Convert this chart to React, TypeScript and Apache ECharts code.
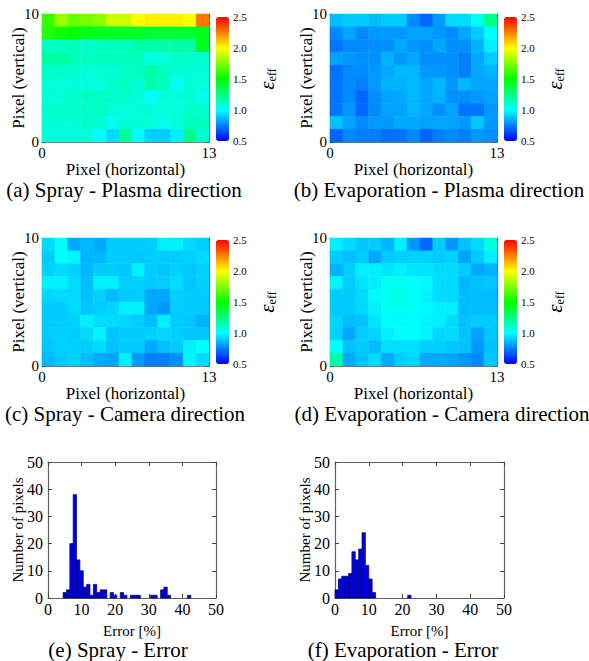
import React, { useEffect, useRef } from "react";
import * as echarts from "echarts";

const FONT = "'Liberation Serif', 'Times New Roman', serif";

// Heatmap categories (pixel indices)
const xPixels = ["0", "1", "2", "3", "4", "5", "6", "7", "8", "9", "10", "11", "12"];
const yPixels = ["0", "1", "2", "3", "4", "5", "6", "7", "8", "9"];

// Effective emissivity maps, rows listed from the top (vertical pixel 9) down to 0
const sprayPlasma = [
  [1.60, 1.80, 1.70, 1.73, 1.77, 1.90, 1.90, 2.00, 2.03, 2.03, 2.03, 2.00, 2.27],
  [1.57, 1.53, 1.50, 1.45, 1.45, 1.43, 1.43, 1.42, 1.40, 1.40, 1.40, 1.40, 1.45],
  [1.12, 1.12, 1.13, 1.10, 1.12, 1.13, 1.13, 1.17, 1.17, 1.17, 1.17, 1.17, 1.45],
  [1.18, 1.18, 1.15, 1.12, 1.13, 1.13, 1.13, 1.13, 1.07, 1.07, 1.12, 1.10, 1.10],
  [1.10, 1.10, 1.10, 1.07, 1.08, 1.08, 1.10, 1.13, 1.17, 1.13, 1.08, 1.08, 1.08],
  [1.08, 1.07, 1.08, 1.07, 1.07, 1.10, 1.13, 1.08, 1.17, 1.13, 1.03, 1.08, 1.07],
  [1.08, 1.08, 1.10, 1.12, 1.12, 1.10, 1.10, 1.08, 1.00, 1.07, 1.07, 1.08, 1.03],
  [1.10, 1.10, 1.10, 1.10, 1.12, 1.08, 1.07, 1.08, 1.08, 1.07, 1.07, 1.10, 1.10],
  [1.08, 1.08, 1.08, 1.10, 1.08, 1.03, 1.08, 1.08, 1.07, 1.03, 1.07, 1.13, 1.13],
  [1.07, 1.07, 1.07, 1.07, 1.00, 0.93, 1.20, 1.00, 0.90, 0.90, 0.97, 1.23, 1.10],
];

const evapPlasma = [
  [0.87, 0.90, 0.90, 0.87, 0.90, 0.90, 0.77, 0.70, 0.80, 0.93, 0.93, 1.03, 1.23],
  [0.77, 0.83, 0.77, 0.80, 0.80, 0.80, 0.82, 0.82, 0.80, 0.77, 0.83, 0.90, 1.00],
  [0.73, 0.77, 0.77, 0.78, 0.78, 0.83, 0.80, 0.78, 0.83, 0.78, 0.78, 0.85, 0.97],
  [0.82, 0.80, 0.78, 0.78, 0.85, 0.80, 0.83, 0.78, 0.78, 0.78, 0.75, 0.83, 0.90],
  [0.72, 0.77, 0.77, 0.80, 0.83, 0.86, 0.86, 0.80, 0.80, 0.78, 0.75, 0.83, 0.85],
  [0.73, 0.77, 0.75, 0.80, 0.85, 0.85, 0.86, 0.83, 0.86, 0.80, 0.86, 0.83, 0.83],
  [0.73, 0.77, 0.70, 0.78, 0.82, 0.83, 0.86, 0.83, 0.85, 0.78, 0.78, 0.80, 0.82],
  [0.73, 0.80, 0.70, 0.77, 0.82, 0.82, 0.86, 0.83, 0.78, 0.82, 0.73, 0.73, 0.80],
  [0.88, 0.82, 0.77, 0.80, 0.80, 0.83, 0.83, 0.82, 0.83, 0.82, 0.80, 0.89, 0.80],
  [0.70, 0.77, 0.75, 0.75, 0.72, 0.73, 0.77, 0.70, 0.75, 0.77, 0.75, 0.80, 0.78],
];

const sprayCamera = [
  [0.93, 1.00, 0.83, 0.86, 0.83, 0.90, 0.90, 0.90, 0.90, 0.97, 0.97, 0.93, 0.90],
  [0.90, 1.00, 0.98, 0.86, 0.86, 0.90, 0.90, 0.89, 0.90, 0.90, 0.90, 0.91, 0.93],
  [0.91, 0.93, 0.91, 0.86, 0.90, 0.90, 0.89, 0.97, 0.90, 0.89, 0.91, 0.89, 0.91],
  [0.97, 0.97, 0.93, 0.87, 0.97, 0.97, 0.90, 0.91, 0.90, 0.90, 0.93, 0.89, 0.91],
  [0.92, 0.93, 0.93, 0.88, 0.91, 0.87, 0.90, 0.90, 0.83, 0.83, 0.91, 0.90, 0.90],
  [0.90, 0.90, 0.93, 0.89, 0.90, 0.92, 0.97, 0.97, 0.83, 0.80, 0.90, 0.90, 0.90],
  [0.90, 0.90, 0.91, 0.97, 0.93, 0.93, 0.92, 0.90, 0.87, 0.97, 0.90, 0.89, 0.85],
  [0.90, 0.91, 0.90, 0.93, 0.98, 0.88, 0.90, 0.90, 0.91, 0.92, 0.91, 0.89, 0.89],
  [0.89, 0.91, 0.91, 0.90, 0.93, 0.88, 0.90, 0.90, 0.83, 0.88, 0.90, 0.97, 1.00],
  [0.86, 0.89, 0.91, 0.87, 0.83, 0.82, 0.97, 0.80, 0.75, 0.75, 0.78, 0.98, 0.93],
];

const evapCamera = [
  [0.97, 0.93, 0.89, 0.90, 0.85, 0.97, 0.80, 0.70, 0.90, 0.80, 0.88, 0.93, 1.07],
  [0.90, 0.88, 0.90, 0.83, 0.90, 0.91, 0.91, 0.91, 0.90, 0.91, 0.82, 0.90, 0.97],
  [0.85, 0.90, 0.97, 0.97, 0.95, 0.97, 0.95, 0.95, 0.93, 0.93, 0.90, 0.83, 0.85],
  [0.98, 0.90, 0.95, 0.97, 1.02, 1.02, 1.00, 0.99, 0.93, 0.93, 0.86, 0.88, 0.89],
  [0.90, 0.90, 0.93, 0.99, 1.03, 1.04, 1.01, 0.98, 0.93, 0.93, 0.87, 0.87, 0.87],
  [0.90, 0.90, 0.92, 0.97, 1.03, 1.03, 1.01, 0.99, 0.97, 0.97, 0.87, 0.87, 0.87],
  [0.92, 0.87, 0.88, 0.95, 1.01, 0.99, 1.00, 0.98, 0.97, 0.93, 0.88, 0.90, 0.90],
  [0.91, 0.83, 0.90, 0.92, 0.97, 1.00, 1.00, 0.98, 0.92, 0.93, 0.88, 0.82, 0.89],
  [1.00, 0.88, 0.90, 0.87, 0.94, 0.94, 0.94, 0.91, 0.91, 0.89, 0.88, 0.80, 0.88],
  [1.17, 0.83, 0.88, 0.93, 0.83, 0.90, 0.92, 0.83, 0.83, 0.82, 0.80, 0.77, 0.89],
];

// Error histograms: bin centres [%] and pixel counts
const sprayErrorBins = [5, 6, 7, 8, 9, 10, 11, 12, 13, 14, 15, 16, 17, 19, 20, 22, 23, 25, 26, 27, 31, 32, 34, 35, 36, 42];
const sprayErrorCounts = [2, 3, 20, 38, 14, 10, 4, 5, 1, 5, 2, 3, 3, 2, 1, 2, 1, 1, 1, 1, 1, 1, 3, 4, 1, 1];
const evapErrorBins = [0.5, 1.5, 2.5, 3.5, 4.5, 5.5, 6.5, 7.5, 8.5, 9.5, 10.5, 11.5, 22];
const evapErrorCounts = [3, 7, 8, 8, 9, 17, 14, 18, 24, 12, 7, 2, 1];
const BIN_WIDTH = 1;

const JET = ["#0000ff", "#00ffff", "#00ff00", "#ffff00", "#ff0000"];
const FRAME = "#707070";
const TICK = "#444";

function heatData(rows: number[][]) {
  const out: number[][] = [];
  const n = rows.length;
  rows.forEach((row, r) => {
    row.forEach((v, c) => out.push([c, n - 1 - r, v]));
  });
  return out;
}

function captionText(text: string, x: number, y: number) {
  return {
    type: "text", x, y,
    style: {
      text, font: `21px ${FONT}`, fontFamily: FONT, fontSize: 21, fill: "#000",
      align: "center", verticalAlign: "middle", textAlign: "center", textVerticalAlign: "middle",
    },
  };
}

function buildOption() {
  const grid: any[] = [];
  const xAxis: any[] = [];
  const yAxis: any[] = [];
  const series: any[] = [];
  const visualMap: any[] = [];
  const graphic: any[] = [];

  const heatPanels = [
    { rows: sprayPlasma, left: 42, top: 14, cbLeft: 216, cbTop: 17, caption: "(a) Spray - Plasma direction", capX: 124, capY: 190 },
    { rows: evapPlasma, left: 330, top: 14, cbLeft: 504, cbTop: 17, caption: "(b) Evaporation - Plasma direction", capX: 439, capY: 190 },
    { rows: sprayCamera, left: 42, top: 238, cbLeft: 216, cbTop: 240, caption: "(c) Spray - Camera direction", capX: 125, capY: 414 },
    { rows: evapCamera, left: 330, top: 238, cbLeft: 504, cbTop: 240, caption: "(d) Evaporation - Camera direction", capX: 442, capY: 414 },
  ];

  heatPanels.forEach((p, i) => {
    const g = grid.length;
    grid.push({ left: p.left, top: p.top, width: 167, height: 128 });
    const xCat = xAxis.length;
    xAxis.push({ type: "category", gridIndex: g, data: xPixels, show: false });
    xAxis.push({
      type: "value", gridIndex: g, min: 0, max: 13, interval: 1, position: "bottom",
      axisLine: { show: true, onZero: false, lineStyle: { color: FRAME, width: 1.2 } },
      axisTick: { show: true, inside: true, length: 3, lineStyle: { color: TICK } },
      splitLine: { show: false },
      axisLabel: {
        fontFamily: FONT, fontSize: 15, color: "#000", margin: 3,
        formatter: (v: number) => (v === 0 || v === 13 ? String(v) : ""),
      },
      name: "Pixel (horizontal)", nameLocation: "middle", nameGap: 18.5, nameMoveOverlap: false,
      nameTextStyle: { fontFamily: FONT, fontSize: 17, color: "#000" },
    });
    xAxis.push({
      type: "value", gridIndex: g, min: 0, max: 13, interval: 1, position: "top",
      axisLine: { show: true, onZero: false, lineStyle: { color: FRAME, width: 1.2 } },
      axisTick: { show: true, inside: true, length: 3, lineStyle: { color: TICK } },
      splitLine: { show: false }, axisLabel: { show: false },
    });
    const yCat = yAxis.length;
    yAxis.push({ type: "category", gridIndex: g, data: yPixels, show: false });
    yAxis.push({
      type: "value", gridIndex: g, min: 0, max: 10, interval: 1, position: "left",
      axisLine: { show: true, onZero: false, lineStyle: { color: FRAME, width: 1.2 } },
      axisTick: { show: true, inside: true, length: 3, lineStyle: { color: TICK } },
      splitLine: { show: false },
      axisLabel: {
        fontFamily: FONT, fontSize: 15, color: "#000", margin: 3,
        formatter: (v: number) => (v === 0 || v === 10 ? String(v) : ""),
      },
      name: "Pixel (vertical)", nameLocation: "middle", nameGap: 15, nameMoveOverlap: false,
      nameTextStyle: { fontFamily: FONT, fontSize: 17, color: "#000" },
    });
    yAxis.push({
      type: "value", gridIndex: g, min: 0, max: 10, interval: 1, position: "right",
      axisLine: { show: true, onZero: false, lineStyle: { color: FRAME, width: 1.2 } },
      axisTick: { show: true, inside: true, length: 3, lineStyle: { color: TICK } },
      splitLine: { show: false }, axisLabel: { show: false },
    });
    series.push({
      type: "heatmap", xAxisIndex: xCat, yAxisIndex: yCat, data: heatData(p.rows),
      itemStyle: { borderWidth: 0 }, emphasis: { disabled: true },
    });
    visualMap.push({
      type: "continuous", seriesIndex: i, dimension: 2, min: 0.5, max: 2.5,
      calculable: false, inRange: { color: JET }, itemWidth: 13, itemHeight: 124,
      left: p.cbLeft, top: p.cbTop, padding: 0, orient: "vertical",
    });
    // colour bar scale
    const cg = grid.length;
    grid.push({ left: p.cbLeft, top: p.cbTop, width: 13, height: 124 });
    xAxis.push({ type: "value", gridIndex: cg, show: false, min: 0, max: 1 });
    yAxis.push({
      type: "value", gridIndex: cg, min: 0.5, max: 2.5, interval: 0.5, position: "right",
      axisLine: { show: false }, axisTick: { show: false }, splitLine: { show: false },
      axisLabel: { fontFamily: FONT, fontSize: 11, color: "#000", margin: 4, formatter: (v: number) => v.toFixed(1) },
      name: "{e|ε}{s|eff}", nameLocation: "middle", nameRotate: 90, nameGap: 27, nameMoveOverlap: false,
      nameTextStyle: {
        color: "#000",
        rich: {
          e: { fontFamily: FONT, fontSize: 21, fontStyle: "italic", lineHeight: 22, color: "#000" },
          s: { fontFamily: FONT, fontSize: 12, lineHeight: 10, verticalAlign: "bottom", color: "#000" },
        },
      },
    });
    graphic.push(captionText(p.caption, p.capX, p.capY));
  });

  const histPanels = [
    { bins: sprayErrorBins, counts: sprayErrorCounts, left: 48, width: 168, caption: "(e) Spray - Error", capX: 118 },
    { bins: evapErrorBins, counts: evapErrorCounts, left: 335, width: 169, caption: "(f) Evaporation - Error", capX: 403 },
  ];

  histPanels.forEach((p) => {
    const g = grid.length;
    grid.push({ left: p.left, top: 462, width: p.width, height: 136 });
    const xi = xAxis.length;
    const common = {
      axisLine: { show: true, onZero: false, lineStyle: { color: "#606060", width: 1.2 } },
      axisTick: { show: true, inside: true, length: 4, lineStyle: { color: TICK } },
      splitLine: { show: false },
    };
    xAxis.push({
      type: "value", gridIndex: g, min: 0, max: 50, interval: 10, position: "bottom", ...common,
      axisLabel: { fontFamily: FONT, fontSize: 16, color: "#000", margin: 3 },
      name: "Error [%]", nameLocation: "middle", nameGap: 25.5, nameMoveOverlap: false,
      nameTextStyle: { fontFamily: FONT, fontSize: 15, color: "#000" },
    });
    xAxis.push({ type: "value", gridIndex: g, min: 0, max: 50, interval: 10, position: "top", ...common, axisLabel: { show: false } });
    const yi = yAxis.length;
    yAxis.push({
      type: "value", gridIndex: g, min: 0, max: 50, interval: 10, position: "left", ...common,
      axisLabel: { fontFamily: FONT, fontSize: 16, color: "#000", margin: 5 },
      name: "Number of pixels", nameLocation: "middle", nameGap: 23, nameMoveOverlap: false,
      nameTextStyle: { fontFamily: FONT, fontSize: 15, color: "#000" },
    });
    yAxis.push({ type: "value", gridIndex: g, min: 0, max: 50, interval: 10, position: "right", ...common, axisLabel: { show: false } });
    series.push({
      type: "custom", xAxisIndex: xi, yAxisIndex: yi,
      data: p.bins.map((b, k) => [b, p.counts[k]]),
      encode: { x: 0, y: 1 },
      renderItem: (_params: any, api: any) => {
        const x = api.value(0) as number;
        const y = api.value(1) as number;
        const tl = api.coord([x - BIN_WIDTH / 2, y]);
        const br = api.coord([x + BIN_WIDTH / 2, 0]);
        return {
          type: "rect",
          shape: { x: tl[0], y: tl[1], width: br[0] - tl[0], height: br[1] - tl[1] },
          style: { fill: "#0000e8", stroke: "#000060", lineWidth: 0.7 },
        };
      },
    });
    graphic.push(captionText(p.caption, p.capX, 650));
  });

  return {
    animation: false,
    backgroundColor: "#fff",
    textStyle: { fontFamily: FONT },
    grid, xAxis, yAxis, series, visualMap, graphic,
  };
}

export default function App() {
  const ref = useRef<HTMLDivElement>(null);
  useEffect(() => {
    if (!ref.current) return;
    const chart = echarts.init(ref.current, null, { renderer: "svg" });
    chart.setOption(buildOption() as any);
    return () => chart.dispose();
  }, []);
  return (
    <div
      ref={ref}
      style={{ position: "fixed", left: 0, top: 0, width: 589, height: 661, background: "#fff" }}
    />
  );
}
